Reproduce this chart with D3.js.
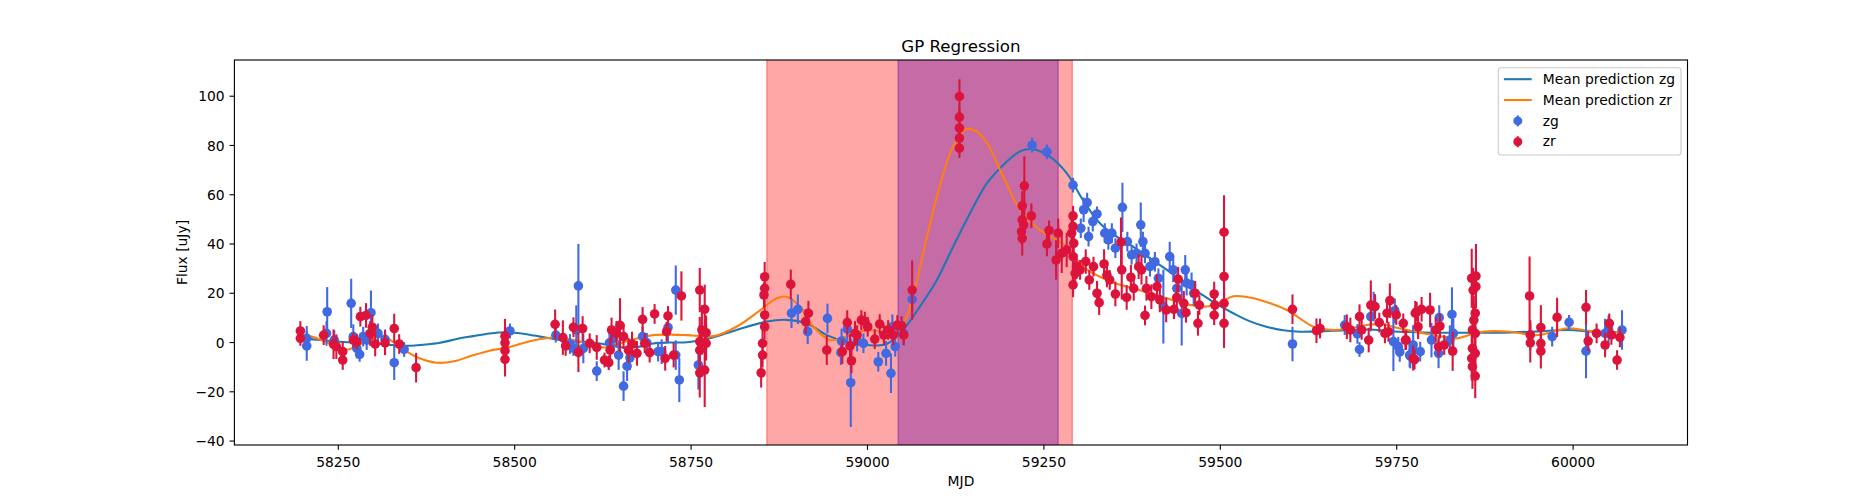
<!DOCTYPE html>
<html>
<head>
<meta charset="utf-8">
<script src="https://cdn.jsdelivr.net/npm/d3@7.9.0/dist/d3.min.js"></script>
<style>
  body { margin: 0; background: #fff; }
  text { font-family: "DejaVu Sans", sans-serif; fill: #000; }
</style>
</head>
<body>
<svg id="chart" width="1875" height="500"></svg>
<script>
// ---- data ----
const xTicks = [58250, 58500, 58750, 59000, 59250, 59500, 59750, 60000];
const yTicks = [-40, -20, 0, 20, 40, 60, 80, 100];

// shaded windows [start, end] in MJD
const windowWide = [58858, 59291];
const windowNarrow = [59044, 59271];

// GP mean prediction zg
const predZgMjd = [58200, 58225, 58253, 58280, 58300, 58325, 58348, 58375, 58395, 58420,
  58442, 58465, 58489, 58512, 58537, 58560, 58585, 58607, 58630, 58654,
  58675, 58697, 58720, 58745, 58777, 58815, 58858, 58886, 58915, 58943,
  58971, 59000, 59028, 59051, 59075, 59099, 59122, 59146, 59170, 59190,
  59217, 59235, 59259, 59283, 59306, 59330, 59353, 59377, 59401, 59425,
  59448, 59472, 59495, 59519, 59542, 59566, 59590, 59614, 59661, 59708,
  59755, 59800, 59850, 59897, 59950, 59992, 60030, 60067];
const predZgFlux = [1.6, 0.8, 0.1, -0.3, -0.5, -1.2, -1.5, -1.0, -0.3, 1.3,
  2.4, 3.5, 4.0, 3.4, 2.2, 1.0, 0.2, 0.0, -1.0, -2.2,
  -2.0, -0.6, -0.2, -0.1, 1.5, 4.9, 8.3, 9.0, 7.5, 2.8,
  0.1, -1.2, -0.8, 4.9, 14.4, 25.2, 38.7, 52.3, 64.5, 71.0,
  77.4, 78.3, 75.3, 68.6, 57.7, 48.2, 43.0, 38.7, 34.0, 29.3,
  24.5, 19.8, 15.5, 11.7, 8.5, 6.2, 4.8, 4.2, 4.6, 5.1,
  4.2, 3.8, 3.8, 3.8, 4.3, 4.9, 4.2, 4.0];

// GP mean prediction zr
const predZrMjd = [58200, 58211, 58234, 58253, 58265, 58285, 58305, 58320, 58340, 58365,
  58390, 58415, 58440, 58465, 58489, 58512, 58537, 58560, 58585, 58607,
  58630, 58650, 58675, 58697, 58720, 58745, 58783, 58815, 58849, 58872,
  58886, 58905, 58924, 58948, 58971, 59000, 59028, 59051, 59065, 59084,
  59103, 59122, 59141, 59155, 59170, 59193, 59217, 59245, 59283, 59306,
  59330, 59353, 59377, 59401, 59425, 59448, 59481, 59500, 59519, 59540,
  59557, 59595, 59633, 59661, 59685, 59708, 59730, 59755, 59790, 59816,
  59835, 59855, 59873, 59911, 59948, 59970, 59992, 60025, 60067];
const predZrFlux = [2.6, 2.3, 0.0, -2.6, -3.0, -0.5, 2.0, 1.5, -2.5, -6.5,
  -8.4, -7.8, -5.5, -3.5, -2.3, -0.5, 1.2, 1.8, 0.8, -1.0,
  -2.2, -0.5, 1.5, 2.8, 3.0, 2.8, 2.4, 6.2, 13.0, 17.8,
  18.4, 14.4, 6.2, 0.8, 2.2, 4.9, 4.2, 7.6, 18.4, 41.5,
  63.1, 79.4, 86.5, 85.5, 80.8, 67.2, 53.7, 45.5, 38.7, 30.6,
  26.5, 23.8, 21.8, 19.8, 17.8, 15.7, 14.4, 16.0, 18.6, 18.2,
  17.1, 13.0, 6.2, 4.9, 5.5, 6.9, 7.2, 5.5, 3.5, 2.2,
  1.5, 3.0, 4.2, 4.2, 2.8, 4.0, 5.6, 4.5, 4.0];

// zg observations
const zgMjd = [58206, 58206, 58234, 58235, 58245, 58269, 58272, 58277, 58281, 58286,
  58291, 58297, 58307, 58317, 58330, 58344, 58494, 58559, 58579, 58584,
  58591, 58588, 58598, 58617, 58635, 58641, 58648, 58655, 58660, 58664,
  58682, 58688, 58704, 58709, 58718, 58729, 58729, 58734, 58761, 58893,
  58902, 58916, 58944, 58963, 58964, 58972, 58977, 58986, 58995, 59016,
  59027, 59034, 59036, 59040, 59052, 59064, 59234, 59255, 59292, 59303,
  59307, 59312, 59314, 59320, 59326, 59337, 59342, 59347, 59352, 59362,
  59369, 59375, 59382, 59388, 59391, 59394, 59401, 59408, 59413, 59420,
  59429, 59434, 59439, 59446, 59451, 59453, 59460, 59463, 59603, 59677,
  59695, 59698, 59714, 59718, 59748, 59746, 59753, 59769, 59774, 59755,
  59770, 59774, 59784, 59800, 59811, 59810, 59829, 59831, 59826, 59995,
  59971, 60019, 60046, 60051, 60070];
const zgFlux = [1.5, -1.6, 3.5, 12.3, 0.8, 15.7, 2.2, -2.6, -5.0, 2.2,
  0.8, 11.9, 3.5, 1.1, -8.4, -3.0, 4.5, 2.8, -0.8, -2.6,
  22.8, 4.9, -2.6, -11.8, -0.3, 1.5, -5.3, -17.9, -9.8, -6.4,
  2.2, -0.3, -3.9, -3.9, 5.9, 21.1, -5.3, -15.4, -9.3, 11.7,
  13.3, 4.2, 9.6, -4.3, 0.4, 5.2, -16.5, 0.2, -0.5, -8.0,
  -4.6, -12.7, 6.2, -1.9, 3.5, 17.3, 79.9, 77.2, 63.7, 46.2,
  53.7, 56.6, 42.8, 48.9, 52.0, 44.2, 41.5, 44.2, 38.1, 54.7,
  40.8, 35.4, 36.0, 47.6, 40.8, 36.0, 30.6, 32.6, 25.9, 14.4,
  34.7, 29.3, 21.8, 11.6, 29.3, 23.9, 23.2, 19.8, -0.8, 6.9,
  3.3, -3.0, 10.3, 14.4, 12.7, 0.2, -1.9, -5.3, -3.3, -4.0,
  -5.7, -1.2, -3.9, 0.8, 9.9, -4.6, 11.2, 3.5, 0.8, 8.0,
  2.2, -3.7, 3.5, 4.9, 4.9];
const zgErr = [5, 6, 5, 10, 4, 10, 5, 4, 3, 4,
  4, 9, 4, 4, 7, 3, 3, 3, 4, 3,
  17, 10, 6, 4, 4, 5, 6, 6, 6, 5,
  4, 4, 4, 5, 6, 10, 6, 9, 10, 6,
  6, 5, 6, 5, 5, 5, 18, 4, 4, 4,
  5, 8, 5, 4, 5, 5, 3, 3, 3, 4,
  5, 4, 4, 4, 3, 4, 4, 4, 4, 10,
  4, 4, 4, 9, 4, 4, 4, 4, 4, 15,
  6, 5, 6, 13, 6, 5, 5, 5, 7, 4,
  4, 3, 6, 6, 5, 12, 4, 5, 4, 4,
  5, 8, 4, 7, 5, 6, 11, 6, 6, 3,
  4, 11, 6, 6, 8];

// zr observations
const zrMjd = [58197, 58197, 58230, 58244, 58248, 58257, 58257, 58272, 58277, 58282,
  58290, 58296, 58299, 58303, 58317, 58330, 58337, 58361, 58487, 58487,
  58487, 58487, 58558, 58569, 58573, 58584, 58591, 58597, 58607, 58617,
  58628, 58634, 58636, 58638, 58645, 58650, 58655, 58662, 58667, 58674,
  58682, 58685, 58692, 58699, 58716, 58714, 58726, 58718, 58737, 58763,
  58766, 58763, 58770, 58763, 58770, 58763, 58772, 58772, 58855, 58855,
  58854, 58855, 58855, 58852, 58852, 58850, 58892, 58913, 58917, 58943,
  58965, 58972, 58976, 58978, 58983, 58986, 58992, 58997, 59001, 59011,
  59018, 59024, 59030, 59037, 59043, 59049, 59052, 59064, 59131, 59131,
  59131, 59131, 59131, 59223, 59220, 59220, 59219, 59220, 59222, 59233,
  59255, 59258, 59268, 59271, 59276, 59283, 59290, 59292, 59292, 59293,
  59292, 59295, 59292, 59297, 59302, 59310, 59315, 59321, 59326, 59329,
  59336, 59340, 59344, 59352, 59360, 59361, 59368, 59374, 59378, 59385,
  59389, 59394, 59396, 59403, 59411, 59415, 59424, 59435, 59439, 59441,
  59449, 59452, 59465, 59469, 59471, 59492, 59493, 59492, 59506, 59506,
  59506, 59506, 59603, 59637, 59642, 59680, 59685, 59698, 59701, 59711,
  59714, 59720, 59726, 59734, 59739, 59741, 59737, 59750, 59763, 59776,
  59777, 59760, 59764, 59774, 59779, 59781, 59786, 59798, 59806, 59812,
  59810, 59818, 59830, 59857, 59863, 59863, 59859, 59862, 59860, 59858,
  59862, 59858, 59862, 59857, 59858, 59862, 59939, 59940, 59940, 59955,
  59955, 59955, 59978, 60019, 60022, 60034, 60046, 60052, 60055, 60063,
  60067];
const zrFlux = [4.5, 1.5, 2.8, -0.9, -1.9, -3.9, -7.3, 0.8, 0.1, 10.3,
  10.8, 3.5, 6.0, -0.8, -0.3, 5.5, -0.8, -10.4, 2.4, -0.3,
  -3.5, -7.0, 7.2, 1.8, -1.6, 6.0, -4.2, 5.5, -0.5, -2.2,
  -7.3, -8.4, -3.3, 4.9, 3.5, 6.8, 2.2, -3.3, -0.8, -4.6,
  9.2, -0.5, -4.3, 11.4, 4.2, -6.6, -5.3, 10.6, 18.7, 21.1,
  4.9, 0.2, 13.3, -3.3, -11.4, -12.5, -0.5, 3.8, 26.5, 21.8,
  19.1, 11.0, 6.2, -0.5, -5.3, -12.5, 23.4, 8.3, 11.7, -3.3,
  -3.9, 7.9, -1.6, -7.6, 3.5, 2.8, 8.9, 8.3, 6.2, 1.2,
  7.3, 2.8, 4.9, 2.8, 6.9, 6.5, 2.8, 21.1, 99.7, 91.3,
  86.9, 82.8, 78.7, 63.4, 55.3, 49.6, 44.8, 42.1, 47.5, 51.2,
  39.8, 45.3, 33.3, 44.2, 36.0, 37.4, 44.2, 51.2, 46.9, 40.1,
  34.7, 27.9, 23.2, 30.6, 29.3, 32.7, 25.2, 30.6, 19.8, 16.0,
  31.7, 27.2, 25.2, 19.5, 40.6, 29.3, 18.1, 26.3, 21.8, 30.6,
  29.3, 10.8, 21.8, 18.4, 22.5, 17.1, 13.0, 13.3, 18.1, 25.5,
  15.7, 11.9, 19.8, 7.6, 15.0, 19.5, 15.0, 10.9, 44.6, 26.6,
  15.7, 7.6, 13.3, 4.6, 5.5, 6.2, 4.9, 10.3, 4.9, 0.8,
  15.0, 14.4, 7.9, 3.5, 4.2, 16.8, 11.7, 11.0, 0.8, -7.1,
  11.7, 7.6, 0.8, -6.6, 12.3, 6.2, 13.3, 13.0, 4.9, 6.5,
  -1.9, -1.2, -3.7, 25.9, 26.8, 22.5, 21.1, 11.7, 8.9, 4.9,
  3.5, -2.6, -4.6, -6.6, -10.0, -13.8, 18.7, 2.9, -0.3, 5.9,
  -0.6, -3.7, 10.0, 14.1, 0.4, 3.5, -1.2, 7.6, 2.9, -7.3,
  1.9];
const zrErr = [4, 3, 4, 6, 5, 4, 4, 3, 3, 4,
  5, 5, 5, 5, 5, 6, 4, 6, 7, 7,
  7, 7, 6, 7, 4, 4, 8, 5, 4, 5,
  3, 3, 5, 5, 5, 11, 5, 5, 5, 5,
  5, 4, 4, 4, 4, 5, 5, 4, 10, 9,
  10, 10, 10, 10, 15, 10, 7, 7, 6, 6,
  5, 5, 5, 5, 5, 6, 6, 5, 5, 6,
  5, 5, 5, 5, 5, 4, 4, 4, 4, 4,
  4, 4, 4, 4, 4, 4, 4, 12, 7, 4,
  4, 4, 4, 12, 6, 6, 5, 7, 6, 5,
  5, 4, 8, 6, 8, 7, 6, 4, 5, 6,
  6, 5, 5, 5, 4, 5, 4, 4, 5, 5,
  6, 5, 4, 5, 10, 12, 5, 5, 5, 5,
  6, 4, 5, 5, 5, 5, 5, 4, 5, 5,
  5, 4, 5, 5, 4, 5, 4, 4, 15, 8,
  8, 10, 6, 5, 4, 5, 5, 5, 4, 5,
  10, 5, 4, 4, 4, 7, 4, 4, 4, 4,
  5, 4, 4, 5, 4, 5, 5, 7, 5, 5,
  4, 4, 8, 12, 13, 6, 9, 7, 7, 8,
  8, 8, 8, 9, 9, 9, 16, 6, 8, 9,
  6, 7, 8, 7, 4, 4, 5, 4, 4, 4,
  4];

// ---- layout ----
const W = 1875, H = 500;
const pt = 100 / 72;                 // px per point at dpi 100
const margin = { left: 234.4, right: 1687.5, top: 60, bottom: 445 };
const zgColor = "royalblue", zrColor = "crimson";
const markerR = 4.8;

const svg = d3.select("#chart");

const x = d3.scaleLinear().domain([58103.5, 60162.8]).range([margin.left, margin.right]);
const y = d3.scaleLinear().domain([-41.8, 114.5]).range([margin.bottom, margin.top]);

const plot = svg.append("g");
plot.append("clipPath").attr("id", "clip")
  .append("rect")
  .attr("x", margin.left).attr("y", margin.top)
  .attr("width", margin.right - margin.left).attr("height", margin.bottom - margin.top);

const body = plot.append("g").attr("clip-path", "url(#clip)");

// shaded windows: blue one underneath, red one on top
function span(range, color) {
  body.append("rect")
    .attr("x", x(range[0]))
    .attr("y", margin.top - 2)
    .attr("width", x(range[1]) - x(range[0]))
    .attr("height", margin.bottom - margin.top + 4)
    .attr("fill", color).attr("fill-opacity", 0.35)
    .attr("stroke", color).attr("stroke-opacity", 0.35)
    .attr("stroke-width", 1 * pt);
}
span(windowNarrow, "blue");
span(windowWide, "red");

// mean prediction curves
const line = d3.line()
  .x(d => x(d[0]))
  .y(d => y(d[1]))
  .curve(d3.curveCatmullRom.alpha(0.5));

body.append("path")
  .attr("d", line(d3.zip(predZgMjd, predZgFlux)))
  .attr("fill", "none").attr("stroke", "#1f77b4").attr("stroke-width", 1.5 * pt);
body.append("path")
  .attr("d", line(d3.zip(predZrMjd, predZrFlux)))
  .attr("fill", "none").attr("stroke", "#ff7f0e").attr("stroke-width", 1.5 * pt);

// error bars + markers
function errorbars(mjd, flux, err, color) {
  const pts = mjd.map((m, i) => ({ m: m, f: flux[i], e: err[i] }));
  const g = body.append("g");
  g.selectAll("line").data(pts).join("line")
    .attr("x1", d => x(d.m)).attr("x2", d => x(d.m))
    .attr("y1", d => y(d.f - d.e)).attr("y2", d => y(d.f + d.e))
    .attr("stroke", color).attr("stroke-width", 1.5 * pt);
  g.selectAll("circle").data(pts).join("circle")
    .attr("cx", d => x(d.m)).attr("cy", d => y(d.f))
    .attr("r", markerR)
    .attr("fill", color);
}
errorbars(zgMjd, zgFlux, zgErr, zgColor);
errorbars(zrMjd, zrFlux, zrErr, zrColor);

// axes
const tickLen = 3.5 * pt;
const xAxis = plot.append("g")
  .attr("transform", `translate(0,${margin.bottom})`)
  .call(d3.axisBottom(x).tickValues(xTicks).tickFormat(d3.format("d"))
    .tickSize(tickLen).tickSizeOuter(0).tickPadding(tickLen));
const yAxis = plot.append("g")
  .attr("transform", `translate(${margin.left},0)`)
  .call(d3.axisLeft(y).tickValues(yTicks).tickFormat(d => d < 0 ? "\u2212" + Math.abs(d) : d)
    .tickSize(tickLen).tickSizeOuter(0).tickPadding(tickLen));

[xAxis, yAxis].forEach(a => {
  a.select(".domain").remove();
  a.selectAll(".tick line").attr("stroke", "#000").attr("stroke-width", 0.8 * pt);
  a.selectAll(".tick text")
    .attr("font-family", "DejaVu Sans, sans-serif")
    .attr("font-size", 10 * pt).attr("fill", "#000");
});
xAxis.selectAll(".tick text").attr("dy", null).attr("y", 21.5);
yAxis.selectAll(".tick text").attr("dy", null).attr("y", 5.2);

// frame
plot.append("rect")
  .attr("x", margin.left).attr("y", margin.top)
  .attr("width", margin.right - margin.left).attr("height", margin.bottom - margin.top)
  .attr("fill", "none").attr("stroke", "#000").attr("stroke-width", 0.8 * pt);

// labels
svg.append("text")
  .attr("x", (margin.left + margin.right) / 2).attr("y", 51.7)
  .attr("text-anchor", "middle").attr("font-size", 12 * pt)
  .text("GP Regression");
svg.append("text")
  .attr("x", (margin.left + margin.right) / 2).attr("y", 486)
  .attr("text-anchor", "middle").attr("font-size", 10 * pt)
  .text("MJD");
svg.append("text")
  .attr("transform", `translate(187,${(margin.top + margin.bottom) / 2}) rotate(-90)`)
  .attr("text-anchor", "middle").attr("font-size", 10 * pt)
  .text("Flux [uJy]");

// legend
const fs = 10 * pt;
const legend = svg.append("g");
legend.append("rect")
  .attr("x", 1498.3).attr("y", 67.7)
  .attr("width", 1681 - 1498.3).attr("height", 155 - 67.7)
  .attr("rx", 0.2 * fs)
  .attr("fill", "#fff").attr("fill-opacity", 0.8)
  .attr("stroke", "#ccc").attr("stroke-width", 0.8 * pt);

const entries = [
  { label: "Mean prediction zg", kind: "line", color: "#1f77b4" },
  { label: "Mean prediction zr", kind: "line", color: "#ff7f0e" },
  { label: "zg", kind: "err", color: zgColor },
  { label: "zr", kind: "err", color: zrColor }
];
const hx0 = 1503.9, hx1 = 1531.7;
entries.forEach((e, i) => {
  const cy = 79.2 + i * 20.85;
  if (e.kind === "line") {
    legend.append("line")
      .attr("x1", hx0).attr("x2", hx1).attr("y1", cy).attr("y2", cy)
      .attr("stroke", e.color).attr("stroke-width", 1.5 * pt);
  } else {
    const mx = (hx0 + hx1) / 2;
    legend.append("line")
      .attr("x1", mx).attr("x2", mx).attr("y1", cy - 5.5).attr("y2", cy + 5.5)
      .attr("stroke", e.color).attr("stroke-width", 1.5 * pt);
    legend.append("circle")
      .attr("cx", mx).attr("cy", cy).attr("r", 4.5).attr("fill", e.color);
  }
  legend.append("text")
    .attr("x", 1542.8).attr("y", cy + 4.6)
    .attr("font-size", fs)
    .text(e.label);
});
</script>
</body>
</html>
